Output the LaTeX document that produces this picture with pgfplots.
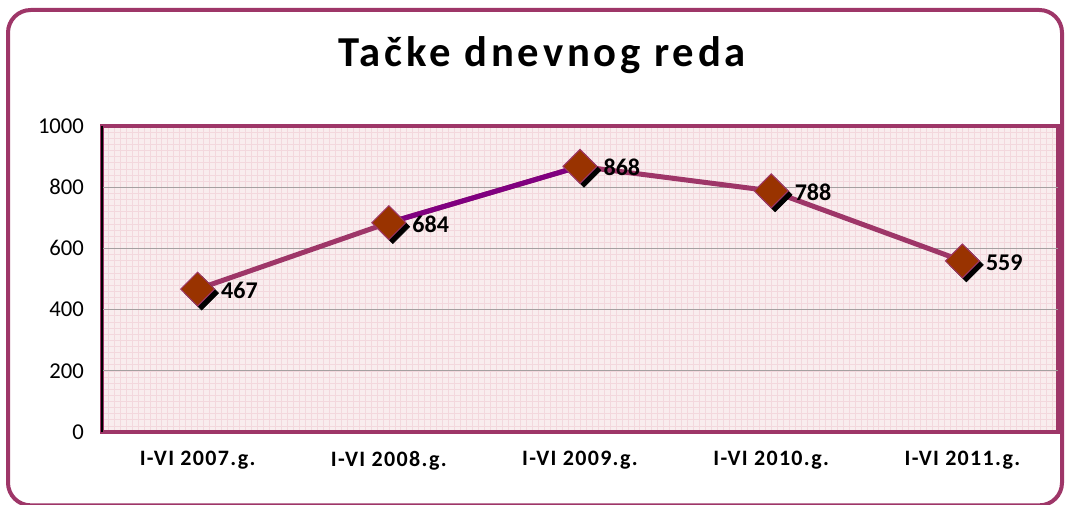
\documentclass[border=0pt]{standalone}
\usepackage{fontspec}
\setmainfont{Carlito}
\usepackage{pgfplots}
\pgfplotsset{compat=1.18}

\definecolor{frame}{RGB}{158,54,104}
\definecolor{purp}{RGB}{128,0,128}
\definecolor{mk}{RGB}{153,51,0}
\definecolor{bgpink}{RGB}{249,237,238}
\definecolor{gridpink}{RGB}{243,216,221}
\definecolor{majgrid}{RGB}{165,160,160}

\begin{document}
\begin{tikzpicture}
\useasboundingbox (0,0) rectangle (799.5pt,378pt);
\draw[frame, line width=3pt, rounded corners=17pt] (6pt,-1pt) rectangle (796.5pt,370.5pt);
\node[font=\bfseries\addfontfeatures{LetterSpace=9}\fontsize{32}{38}\selectfont] at (406.5pt,336.75pt) {Tačke dnevnog reda};

\begin{axis}[
    at={(76.5pt,54pt)}, anchor=south west,
    scale only axis,
    width=717pt, height=229.5pt,
    xmin=-0.5, xmax=4.5,
    ymin=0, ymax=1000,
    ytick={0,200,...,1000},
    xtick={-0.5,0.5,...,4.5},
    xticklabels={},
    minor x tick num=31,
    minor y tick num=9,
    extra x ticks={0,1,2,3,4},
    extra x tick labels={I-VI 2007.g., I-VI 2008.g., I-VI 2009.g., I-VI 2010.g., I-VI 2011.g.},
    extra x tick style={grid=none, major tick length=0pt,
        tick label style={font=\bfseries\addfontfeatures{LetterSpace=6}\fontsize{16.5}{19}\selectfont, yshift=-11pt}},
    major tick length=0pt, minor tick length=0pt,
    xmajorgrids=true, xminorgrids=true,
    ymajorgrids=true, yminorgrids=true,
    minor grid style={gridpink, line width=0.4pt},
    major grid style={gridpink, line width=0.4pt},
    ytick style={draw=none},
    yticklabel style={font=\fontsize{17}{20}\selectfont, xshift=-10pt},
    /pgf/number format/1000 sep={},
    /pgf/number format/assume math mode=true,
    axis background/.style={fill=bgpink},
    axis line style={draw=frame, line width=3pt},
    clip=false,
]
% gray horizontal major lines
\addplot[majgrid, line width=0.9pt, forget plot] coordinates {(-0.5,200)(4.5,200)};
\addplot[majgrid, line width=0.9pt, forget plot] coordinates {(-0.5,400)(4.5,400)};
\addplot[majgrid, line width=0.9pt, forget plot] coordinates {(-0.5,600)(4.5,600)};
\addplot[majgrid, line width=0.9pt, forget plot] coordinates {(-0.5,800)(4.5,800)};
\draw[black, line width=1.6pt] (rel axis cs:0,0) -- (rel axis cs:0,1);

\addplot[frame, line width=3.75pt, mark=none] coordinates {(0,467) (1,684) (2,868) (3,788) (4,559)};
\addplot[purp, line width=3.75pt, mark=none] coordinates {(1,684) (2,868)};
% marker shadows
\addplot[only marks, mark=square*, mark size=9pt,
    mark options={xshift=3pt, yshift=-3pt, rotate=45, fill=black, draw=black}]
    coordinates {(0,467) (1,684) (2,868) (3,788) (4,559)};
\addplot[only marks, mark=square*, mark size=9pt,
    mark options={rotate=45, fill=mk, draw=frame, line width=0.75pt},
    nodes near coords,
    nodes near coords style={anchor=west, xshift=14pt, yshift=-1pt,
        font=\bfseries\fontsize{18}{20}\selectfont, text=black}]
    coordinates {(0,467) (1,684) (2,868) (3,788) (4,559)};
\end{axis}
\end{tikzpicture}
\end{document}
